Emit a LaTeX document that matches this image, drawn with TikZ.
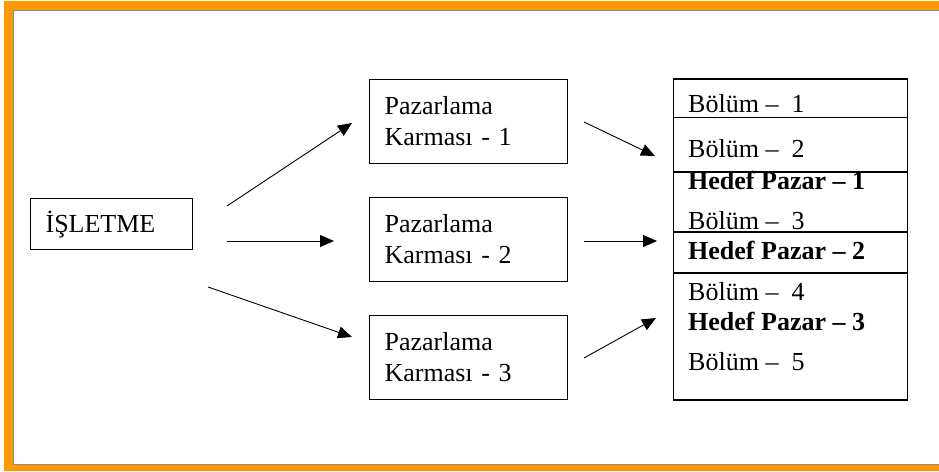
\documentclass[tikz,border=0pt]{standalone}
\usepackage{fontspec}
\setmainfont{Liberation Serif}
\usetikzlibrary{arrows.meta}
\definecolor{orng}{HTML}{FF9900}
\definecolor{frameGray}{HTML}{8C8C8C}
\tikzset{
  box/.style={draw=black, line width=1.2pt, anchor=north west, inner ysep=0pt, inner xsep=15pt, align=left, font=\fontsize{26}{31}\selectfont},
  cell/.style={draw=black, line width=1.2pt, anchor=north west, inner sep=0pt, minimum width=234pt},
  lbl/.style={anchor=base west, inner sep=0pt, font=\fontsize{26}{31}\selectfont},
  arr/.style={draw=black, line width=0.9pt, -{Triangle[length=14pt,width=12pt]}}
}
\begin{document}
\begin{tikzpicture}[x=1pt,y=-1pt]
\useasboundingbox (0,0) rectangle (939,471);
\fill[white] (0,0) rectangle (939,471);
% frame
\fill[orng] (4,1) rectangle (939,10);
\fill[orng] (4,1) rectangle (13,471);
\fill[orng] (4,465) rectangle (939,471);
\draw[frameGray, line width=1.2pt] (939,10.6) -- (13.6,10.6) -- (13.6,464.4) -- (939,464.4);

% left box
\node[box, text width=132pt, minimum height=51pt] (isl) at (30,198) {İŞLETME};

% middle boxes
\node[box, text width=168pt, minimum height=84pt] (pk1) at (369,79) {Pazarlama\\Karması - 1};
\node[box, text width=168pt, minimum height=84pt] (pk2) at (369,197) {Pazarlama\\Karması - 2};
\node[box, text width=168pt, minimum height=84pt] (pk3) at (369,315) {Pazarlama\\Karması - 3};

% right stack
\node[cell, minimum height=38.7pt] (c1) at (673,78.3) {};
\node[cell, minimum height=54.3pt] (c2) at (673,117) {};
\node[cell, minimum height=60pt] (c3) at (673,171.3) {};
\node[cell, minimum height=41.6pt] (c4) at (673,231) {};
\node[cell, minimum height=127pt] (c5) at (673,272.3) {};

\node[lbl] (b1) at (688,112.7) {Bölüm –\ \ 1};
\node[lbl] (b2) at (688,157.3) {Bölüm –\ \ 2};
\node[lbl, font=\fontsize{26}{31}\selectfont\bfseries] (h1) at (688,189.3) {Hedef Pazar – 1};
\node[lbl] (b3) at (688,229.3) {Bölüm –\ \ 3};
\node[lbl, font=\fontsize{26}{31}\selectfont\bfseries] (h2) at (688,259.3) {Hedef Pazar – 2};
\node[lbl] (b4) at (688,300.7) {Bölüm –\ \ 4};
\node[lbl, font=\fontsize{26}{31}\selectfont\bfseries] (h3) at (688,330) {Hedef Pazar – 3};
\node[lbl] (b5) at (688,370) {Bölüm –\ \ 5};

% arrow end points
\coordinate (s1) at (227,206);
\coordinate (t1) at (352,123);
\coordinate (s2) at (227,241);
\coordinate (t2) at (334,241);
\coordinate (s3) at (208,287);
\coordinate (t3) at (352,337);
\coordinate (u1) at (584,122);
\coordinate (v1) at (655,156);
\coordinate (u2) at (584,241);
\coordinate (v2) at (657,241);
\coordinate (u3) at (584,358);
\coordinate (v3) at (656,318);

\draw[arr] (s1) -- (t1);
\draw[arr] (s2) -- (t2);
\draw[arr] (s3) -- (t3);
\draw[arr] (u1) -- (v1);
\draw[arr] (u2) -- (v2);
\draw[arr] (u3) -- (v3);
\end{tikzpicture}
\end{document}
